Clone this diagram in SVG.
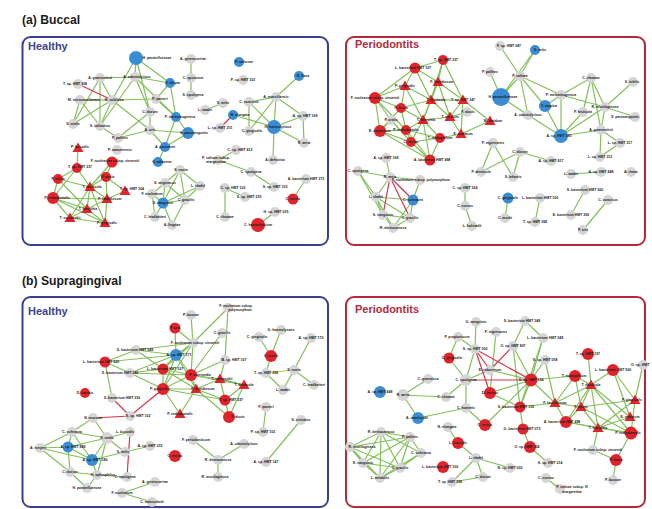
<svg xmlns="http://www.w3.org/2000/svg" xmlns:xlink="http://www.w3.org/1999/xlink" width="652" height="509" viewBox="0 0 652 509">
<defs>
<style>
.e path{fill:none;stroke:#82c05a;stroke-width:1.2}
.e path.x{stroke:#d2374d}
.g{fill:#d5d5d5}
.r{fill:#e1242c}
.b{fill:#3a8dd3}
.box{fill:#fff;stroke-width:2}
.hb{stroke:#3c3f8e}
.pb{stroke:#b5283c}
text{font-family:'Liberation Sans',Arial,sans-serif;font-weight:bold;font-size:3.5px;fill:#1b1b1b;text-anchor:middle}
text.h{font-size:11px;fill:#3c4391;text-anchor:start}
text.p{font-size:11px;fill:#b32a3e;text-anchor:start}
text.ti{font-size:12.2px;fill:#1a1a1a;text-anchor:start}
</style>
<path id="tri" d="M0,-5.5L5.5,4L-5.5,4Z" fill="#e1242c"/>
</defs>
<rect width="652" height="509" fill="#fff"/>
<text class="ti" x="22" y="24">(a) Buccal</text>
<text class="ti" x="22" y="285">(b) Supragingival</text>
<rect class="box hb" x="22.5" y="37" width="305.5" height="208" rx="8"/>
<rect class="box pb" x="346" y="37" width="299" height="208" rx="8"/>
<rect class="box hb" x="22.5" y="297" width="305.5" height="210" rx="8"/>
<rect class="box pb" x="346" y="297" width="299" height="210" rx="8"/>
<text class="h" x="28" y="50">Healthy</text>
<text class="p" x="355" y="48" textLength="64" lengthAdjust="spacingAndGlyphs">Periodontits</text>
<text class="h" x="28" y="315">Healthy</text>
<text class="p" x="355" y="313" textLength="64" lengthAdjust="spacingAndGlyphs">Periodontits</text>

<g id="tl-edges" class="e">
<path d="M136 58L135 77"/><path d="M136 58L112 100"/><path d="M136 58L150 112"/><path d="M136 58L170 83"/>
<path d="M100 78L135 77"/><path d="M100 78L73 124"/><path d="M100 78L100 126"/><path d="M100 78L112 100"/>
<path d="M80 100L112 100"/><path d="M80 100L100 126"/><path d="M80 100L73 124"/>
<path d="M112 100L73 124"/><path d="M112 100L100 126"/><path d="M112 100L156 99"/><path d="M112 100L150 130"/>
<path d="M135 77L170 83"/><path d="M135 77L176 117"/><path d="M135 77L150 112"/><path d="M135 77L100 126"/>
<path d="M170 83L156 99"/><path d="M170 83L176 117"/><path d="M156 99L176 117"/>
<path d="M150 112L150 130"/><path d="M150 112L118 138"/><path d="M176 117L188 133"/><path d="M176 117L165 147"/>
<path d="M150 130L188 133"/><path d="M150 130L165 147"/><path d="M150 130L118 138"/><path d="M188 133L165 147"/>
<path d="M165 147L158 162"/><path d="M100 126L118 138"/><path d="M191 59L191 95"/>
<path d="M78 148L77 168"/><path d="M77 168L58 179"/><path d="M77 168L90 187"/><path d="M77 168L53 198"/>
<path d="M58 179L90 187"/><path d="M58 179L53 198"/><path d="M58 179L87 209"/><path d="M90 187L106 177"/>
<path d="M90 187L107 199"/><path d="M90 187L87 209"/><path d="M90 187L70 218"/><path d="M90 187L105 223"/>
<path d="M53 198L87 209"/><path d="M53 198L70 218"/><path d="M107 199L105 223"/><path d="M107 199L87 209"/>
<path d="M87 209L70 218"/><path d="M70 218L105 223"/><path d="M106 177L112 162"/><path d="M112 162L90 187"/>
<path d="M106 177L107 199"/><path d="M53 198L107 199"/><path d="M107 199L125 191"/><path d="M87 209L105 223"/>
<path d="M106 177L125 191"/><path d="M53 198L105 223"/>
<path d="M180 170L165 183"/><path d="M180 170L163 203"/><path d="M180 170L185 200"/><path d="M180 170L200 186"/>
<path d="M165 183L163 203"/><path d="M165 183L185 200"/><path d="M200 186L163 203"/><path d="M163 203L185 200"/>
<path d="M163 203L155 217"/><path d="M163 203L172 225"/><path d="M152 194L163 203"/><path d="M185 200L172 225"/>
<path d="M165 183L152 194"/><path d="M152 194L155 217"/><path d="M200 186L185 200"/>
<path d="M225 188L225 217"/><path d="M225 188L245 197"/>
<path d="M299 76L276 97"/><path d="M276 97L249 102"/><path d="M276 97L274 127"/><path d="M276 97L249 131"/>
<path d="M276 97L303 116"/><path d="M249 102L274 127"/><path d="M233 115L274 127"/><path d="M274 127L303 116"/>
<path d="M274 127L304 143"/><path d="M274 127L273 160"/><path d="M303 116L304 143"/><path d="M249 131L249 102"/>
<path d="M223 103L205 110"/><path d="M236 150L218 160"/><path d="M218 160L251 172"/><path d="M251 172L274 187"/>
<path d="M306 179L293 199"/><path d="M275 212L258 225"/>
<path class="x" d="M78 84L112 100"/><path class="x" d="M233 115L220 128"/>
</g>

<g id="tr-edges" class="e">
<path d="M443 60L415 68"/><path d="M443 60L438 82"/><path d="M443 60L431 100"/><path d="M415 68L438 82"/>
<path d="M415 68L405 86"/><path d="M415 68L431 100"/><path d="M375 98L405 86"/><path d="M375 98L401 108"/>
<path d="M375 98L380 131"/><path d="M375 98L391 120"/><path d="M405 86L431 100"/><path d="M405 86L423 120"/>
<path d="M405 86L401 108"/><path d="M438 82L431 100"/><path d="M438 82L423 120"/><path d="M438 82L463 100"/>
<path d="M431 100L401 108"/><path d="M431 100L423 120"/><path d="M431 100L463 100"/><path d="M431 100L450 117"/>
<path d="M401 108L380 131"/><path d="M401 108L406 130"/><path d="M401 108L423 120"/><path d="M391 120L380 131"/>
<path d="M391 120L411 142"/><path d="M423 120L406 130"/><path d="M423 120L440 138"/><path d="M423 120L411 142"/>
<path d="M423 120L430 160"/><path d="M380 131L406 130"/><path d="M380 131L411 142"/><path d="M406 130L411 142"/>
<path d="M406 130L440 138"/><path d="M440 138L411 142"/><path d="M440 138L430 160"/><path d="M411 142L430 160"/>
<path d="M440 138L461 134"/><path d="M463 100L450 117"/><path d="M463 100L490 121"/><path d="M450 117L461 134"/>
<path d="M463 100L461 134"/><path d="M490 121L461 134"/><path d="M467 112L450 117"/><path d="M423 120L450 117"/>
<path d="M438 82L450 117"/><path d="M406 130L430 160"/><path d="M375 98L406 130"/><path d="M443 60L463 100"/>
<path d="M380 131L430 160"/><path d="M375 98L415 68"/>
<path d="M386 158L390 177"/><path d="M358 171L390 177"/><path d="M358 171L376 197"/><path d="M358 171L383 215"/>
<path d="M390 177L420 180"/><path d="M390 177L376 197"/><path d="M376 197L413 200"/><path d="M376 197L383 215"/>
<path d="M376 197L393 228"/><path d="M413 200L410 218"/><path d="M383 215L393 228"/><path d="M410 218L393 228"/>
<path d="M383 215L410 218"/><path d="M420 180L413 200"/><path d="M376 197L410 218"/><path d="M413 200L393 228"/>
<path class="x" d="M390 177L383 215"/><path class="x" d="M390 177L413 200"/><path class="x" d="M390 177L410 218"/>
<path d="M500 46L520 76"/><path d="M535 50L520 76"/><path d="M520 76L501 97"/><path d="M520 76L528 115"/>
<path d="M501 97L528 115"/><path d="M520 76L545 106"/><path d="M490 72L501 97"/><path d="M535 50L501 97"/>
<path d="M545 106L561 95"/><path d="M520 76L561 95"/><path d="M561 95L591 78"/><path d="M561 95L605 107"/>
<path d="M561 95L561 136"/><path d="M591 78L583 112"/><path d="M591 78L601 130"/><path d="M591 78L605 107"/>
<path d="M633 82L605 107"/><path d="M605 107L635 117"/><path d="M605 107L561 136"/><path d="M561 136L601 130"/>
<path d="M605 107L601 130"/><path d="M601 130L600 157"/><path d="M601 130L620 143"/><path d="M620 143L600 157"/>
<path d="M561 136L545 106"/><path d="M561 136L528 115"/><path d="M583 112L561 136"/>
<path d="M571 174L601 172"/><path d="M585 190L571 215"/><path d="M608 200L583 230"/>
<path d="M493 143L481 172"/><path d="M493 143L513 177"/><path d="M520 152L481 172"/><path d="M520 152L513 177"/>
<path d="M520 152L551 161"/><path d="M465 188L465 206"/><path d="M465 206L472 226"/><path d="M508 198L505 218"/>
<path d="M540 198L535 222"/>
</g>

<g id="bl-edges" class="e">
<path d="M105 362L136 350"/><path d="M105 362L130 373"/><path d="M105 362L112 398"/><path d="M105 362L176 355"/>
<path d="M136 350L176 355"/><path d="M136 350L163 369"/><path d="M136 350L193 343"/><path d="M130 373L163 369"/>
<path d="M130 373L176 355"/><path d="M130 373L163 389"/><path d="M130 373L191 375"/>
<path d="M93 418L72 432"/><path d="M93 418L107 438"/><path d="M72 432L107 438"/><path d="M72 432L40 448"/>
<path d="M72 432L68 447"/><path d="M72 432L92 460"/><path d="M40 448L68 447"/><path d="M40 448L92 460"/>
<path d="M40 448L70 472"/><path d="M68 447L107 438"/><path d="M68 447L92 460"/><path d="M68 447L70 472"/>
<path d="M92 460L107 438"/><path d="M92 460L97 475"/><path d="M70 472L97 475"/><path d="M97 475L87 488"/>
<path d="M107 438L130 432"/><path d="M107 438L125 452"/><path d="M92 460L125 452"/><path d="M97 475L127 477"/>
<path d="M107 438L97 475"/><path d="M70 472L87 488"/><path d="M150 446L125 452"/>
<path d="M191 315L193 343"/><path d="M175 328L193 343"/><path d="M175 328L176 355"/><path d="M228 308L193 343"/>
<path d="M228 308L225 360"/><path d="M193 343L176 355"/><path d="M193 343L163 369"/><path d="M193 343L191 375"/>
<path d="M193 343L163 389"/><path d="M222 333L191 375"/><path d="M176 355L163 369"/><path d="M176 355L191 375"/>
<path d="M176 355L163 389"/><path d="M176 355L196 389"/><path d="M163 369L191 375"/><path d="M163 369L163 389"/>
<path d="M163 369L196 389"/><path d="M191 375L220 379"/><path d="M191 375L196 389"/><path d="M191 375L163 389"/>
<path d="M220 379L196 389"/><path d="M220 379L225 400"/><path d="M220 379L225 360"/><path d="M163 389L196 389"/>
<path d="M163 389L180 414"/><path d="M196 389L225 400"/><path d="M196 389L229 417"/><path d="M225 400L229 417"/>
<path d="M163 389L225 400"/><path d="M244 385L225 400"/><path d="M244 385L220 379" style="stroke:#3f8f2f"/><path d="M244 385L229 417"/>
<path d="M191 375L244 385"/><path d="M180 414L196 389"/><path d="M225 360L191 375"/>
<path d="M193 440L218 460"/><path d="M218 460L218 477"/><path d="M155 482L122 493"/><path d="M122 493L152 502"/>
<path d="M244 444L218 460"/>
<path d="M281 330L271 356"/><path d="M259 337L271 356"/><path d="M271 356L266 373"/><path d="M266 373L294 370" style="stroke:#b9c24a"/>
<path d="M294 370L314 385"/><path d="M294 370L311 338"/><path d="M294 370L283 390"/><path d="M266 373L283 390"/>
<path d="M266 407L263 432"/><path d="M301 420L266 462"/>
<path class="x" d="M112 398L130 416"/><path class="x" d="M93 418L130 416"/><path class="x" d="M163 389L130 416"/><path class="x" d="M130 432L127 477"/>
</g>

<g id="br-edges" class="e">
<path d="M476 322L475 349"/><path d="M525 321L513 346"/><path d="M525 321L543 338"/><path d="M458 337L449 358"/>
<path d="M458 337L475 349"/><path d="M496 332L490 393"/><path d="M513 346L531 380"/><path d="M513 346L520 407"/>
<path d="M475 349L466 380"/><path d="M543 338L531 380"/><path d="M543 338L520 407"/><path d="M545 360L531 380"/>
<path d="M545 360L555 403"/><path d="M490 370L466 380"/><path d="M490 370L531 380"/><path d="M466 380L446 397"/>
<path d="M466 380L466 408"/><path d="M466 380L449 358"/><path d="M466 408L485 425"/><path d="M490 393L520 407"/>
<path d="M490 393L531 380"/><path d="M520 407L531 380"/><path d="M520 407L523 429"/><path d="M531 380L485 425"/>
<path d="M531 380L575 376"/><path d="M531 380L555 403"/><path d="M520 407L555 403"/><path d="M523 429L530 447"/>
<path d="M458 443L476 458"/><path d="M476 458L483 477"/><path d="M476 458L510 468"/><path d="M476 458L452 482"/>
<path d="M483 477L452 482"/><path d="M458 443L448 427"/><path d="M530 447L548 463"/><path d="M546 478L560 489"/>
<path d="M588 354L591 385"/><path d="M613 370L591 385"/><path d="M575 376L591 385"/><path d="M591 385L581 407"/>
<path d="M591 385L566 422"/><path d="M591 385L598 428"/><path d="M591 385L631 433"/><path d="M591 385L555 403"/>
<path d="M613 370L635 400"/><path d="M643 365L635 400"/><path d="M581 407L635 400"/><path d="M555 403L581 407"/>
<path d="M581 407L598 428"/><path d="M581 407L631 433"/><path d="M635 400L598 428"/><path d="M630 417L598 428"/>
<path d="M598 428L631 433"/><path d="M566 422L598 428"/><path d="M566 422L581 407"/><path d="M631 433L616 460"/>
<path d="M593 450L616 460"/><path d="M616 460L613 480"/><path d="M635 400L631 433"/><path d="M575 376L555 403"/>
<path d="M575 376L581 407"/><path d="M555 403L566 422"/><path d="M613 370L630 417"/><path d="M591 385L630 417"/>
<path d="M598 428L593 450"/><path d="M566 422L631 433"/>
<path d="M428 379L403 395"/><path d="M403 395L446 397"/><path d="M403 395L418 418"/><path d="M418 418L466 408"/>
<path d="M381 432L410 437"/><path d="M381 432L350 447"/><path d="M381 432L421 453"/><path d="M381 432L363 463"/>
<path d="M381 432L400 468"/><path d="M381 432L380 478"/><path d="M410 437L350 447"/><path d="M410 437L421 453"/>
<path d="M410 437L363 463"/><path d="M410 437L400 468"/><path d="M350 447L363 463"/><path d="M350 447L400 468"/>
<path d="M350 447L380 478"/><path d="M421 453L400 468"/><path d="M421 453L380 478"/><path d="M363 463L400 468"/>
<path d="M363 463L380 478"/><path d="M400 468L380 478"/><path d="M410 437L380 478"/>
<path class="x" d="M475 349L490 393"/><path class="x" d="M475 349L490 370"/><path class="x" d="M513 346L490 370"/>
<path class="x" d="M466 380L531 380"/><path class="x" d="M475 349L531 380"/>
</g>

<g id="tl-nodes">
<g id="a1"><circle class="b" cx="136" cy="58" r="7"/><text x="157" y="59.2">H. parainfluenzae</text></g>
<g id="a2"><circle class="g" cx="191" cy="59" r="5"/><text x="193" y="60.2">A. gerencseriae</text></g>
<g id="a3"><circle class="g" cx="191" cy="78" r="5"/><text x="193" y="79.2">C. sputorum</text></g>
<g id="a4"><circle class="g" cx="191" cy="95" r="5"/><text x="193" y="96.2">S. sputigena</text></g>
<g id="a5"><circle class="g" cx="78" cy="84" r="5"/><text x="75" y="85.2">T. sp. HMT 308</text></g>
<g id="a6"><circle class="g" cx="100" cy="78" r="5"/><text x="100" y="79.2">A. graevenitzii</text></g>
<g id="a7"><circle class="g" cx="135" cy="77" r="5"/><text x="137" y="78.2">A. odontolyticus</text></g>
<g id="a8"><circle class="b" cx="170" cy="83" r="5"/><text x="173" y="84.2">V. dispar</text></g>
<g id="a9"><circle class="g" cx="112" cy="100" r="5"/><text x="114" y="101.2">N. subflava</text></g>
<g id="a10"><circle class="g" cx="80" cy="100" r="5"/><text x="84" y="101.2">M. micronuciformis</text></g>
<g id="a11"><circle class="g" cx="156" cy="99" r="5"/><text x="160" y="100.2">P. pasteri</text></g>
<g id="a12"><circle class="g" cx="150" cy="112" r="5"/><text x="150" y="113.2">C. durum</text></g>
<g id="a13"><circle class="b" cx="176" cy="117" r="5"/><text x="180" y="118.2">P. melaninogenica</text></g>
<g id="a14"><circle class="g" cx="150" cy="130" r="5"/><text x="150" y="131.2">A. oris</text></g>
<g id="a15"><circle class="b" cx="188" cy="133" r="6"/><text x="194" y="134.2">S. parasanguinis</text></g>
<g id="a16"><circle class="b" cx="165" cy="147" r="5"/><text x="165" y="148.2">A. parvulum</text></g>
<g id="a17"><circle class="b" cx="158" cy="162" r="5"/><text x="162" y="163.2">G. adiacens</text></g>
<g id="a18"><circle class="g" cx="73" cy="124" r="5"/><text x="73" y="125.2">S. oralis</text></g>
<g id="a19"><circle class="g" cx="100" cy="126" r="5"/><text x="100" y="127.2">S. salivarius</text></g>
<g id="a20"><circle class="g" cx="118" cy="138" r="5"/><text x="120" y="139.2">P. pallens</text></g>
<g id="a21"><use href="#tri" x="78" y="148"/><text x="80" y="148.2">P. buccalis</text></g>
<g id="a22"><circle class="g" cx="117" cy="150" r="5"/><text x="120" y="151.2">P. nanceiensis</text></g>
<g id="a23"><circle class="r" cx="112" cy="162" r="5.5"/><text x="115" y="162.2">F. nucleatum subsp. vincentii</text></g>
<g id="a24"><circle class="r" cx="77" cy="168" r="5"/><text x="80" y="168.2">T. sp. HMT 237</text></g>
<g id="a25"><circle class="r" cx="58" cy="179" r="5"/><text x="58" y="180.2">P. micra</text></g>
<g id="a26"><circle class="r" cx="106" cy="177" r="5"/><text x="108" y="178.2">F. alocis</text></g>
<g id="a27"><use href="#tri" x="90" y="187"/><text x="92" y="188.2">T. denticola</text></g>
<g id="a28"><circle class="r" cx="53" cy="198" r="6"/><text x="57" y="199.2">P. endodontalis</text></g>
<g id="a29"><use href="#tri" x="107" y="199"/><text x="110" y="200.2">F. fastidiosum</text></g>
<g id="a30"><use href="#tri" x="87" y="209"/><text x="88" y="210.2">T. forsythia</text></g>
<g id="a31"><use href="#tri" x="70" y="218"/><text x="70" y="219.2">T. socranskii</text></g>
<g id="a32"><use href="#tri" x="105" y="223"/><text x="107" y="224.2">P. gingivalis</text></g>
<g id="a33"><use href="#tri" x="125" y="191"/><text x="132" y="190.2">T. sp. HMT 204</text></g>
<g id="a34"><circle class="g" cx="180" cy="170" r="5"/><text x="181" y="171.2">S. noxia</text></g>
<g id="a35"><circle class="g" cx="165" cy="183" r="5"/><text x="165" y="184.2">S. anginosus</text></g>
<g id="a36"><circle class="g" cx="200" cy="186" r="5"/><text x="198" y="187.2">L. shahii</text></g>
<g id="a37"><circle class="g" cx="225" cy="188" r="5"/><text x="233" y="189.2">C. sp. HMT 102</text></g>
<g id="a38"><circle class="b" cx="163" cy="203" r="5.5"/><text x="163" y="204.2">S. sanguinis</text></g>
<g id="a39"><circle class="g" cx="152" cy="194" r="5"/><text x="152" y="195.2">F. nucleatum</text></g>
<g id="a40"><circle class="g" cx="185" cy="200" r="5"/><text x="186" y="201.2">C. gracilis</text></g>
<g id="a41"><circle class="g" cx="155" cy="217" r="5"/><text x="155" y="218.2">C. leadbetteri</text></g>
<g id="a42"><circle class="g" cx="172" cy="225" r="5"/><text x="172" y="226.2">A. lingnae</text></g>
<g id="a43"><circle class="b" cx="239" cy="62" r="5"/><text x="244" y="63.2">P. oulorum</text></g>
<g id="a44"><circle class="g" cx="243" cy="80" r="5"/><text x="243" y="81.2">P. sp. HMT 102</text></g>
<g id="a45"><circle class="b" cx="299" cy="76" r="5"/><text x="303" y="77.2">N. flava</text></g>
<g id="a46"><circle class="g" cx="276" cy="97" r="5"/><text x="276" y="98.2">A. massiliensis</text></g>
<g id="a47"><circle class="g" cx="249" cy="102" r="5"/><text x="249" y="103.2">C. concisus</text></g>
<g id="a48"><circle class="g" cx="223" cy="103" r="5"/><text x="223" y="104.2">S. mitis</text></g>
<g id="a49"><circle class="g" cx="205" cy="110" r="5"/><text x="205" y="111.2">L. wadei</text></g>
<g id="a50"><circle class="b" cx="233" cy="115" r="5"/><text x="240" y="116.2">N. elongata</text></g>
<g id="a51"><circle class="g" cx="220" cy="128" r="5"/><text x="220" y="129.2">L. sp. HMT 215</text></g>
<g id="a52"><circle class="g" cx="249" cy="131" r="5"/><text x="252" y="132.2">C. gingivalis</text></g>
<g id="a53"><circle class="b" cx="274" cy="127" r="7"/><text x="278" y="128.2">H. haemolyticus</text></g>
<g id="a54"><circle class="g" cx="303" cy="116" r="5"/><text x="305" y="117.2">A. sp. HMT 169</text></g>
<g id="a55"><circle class="g" cx="304" cy="143" r="5"/><text x="304" y="144.2">R. aeria</text></g>
<g id="a56"><circle class="g" cx="273" cy="160" r="5"/><text x="275" y="161.2">A. defectiva</text></g>
<g id="a57"><circle class="g" cx="236" cy="150" r="5"/><text x="240" y="151.2">C. sp. HMT 412</text></g>
<g id="a58"><circle class="g" cx="218" cy="160" r="5"/><text x="216" y="159">P. salivae subsp.</text><text x="216" y="163.2">margaretiae</text></g>
<g id="a59"><circle class="g" cx="251" cy="172" r="5"/><text x="251" y="173.2">C. sputigena</text></g>
<g id="a60"><circle class="g" cx="274" cy="187" r="5"/><text x="275" y="188.2">S. sp. HMT 333</text></g>
<g id="a61"><circle class="g" cx="306" cy="179" r="5"/><text x="306" y="180.2">A. bacterium HMT 273</text></g>
<g id="a62"><circle class="r" cx="293" cy="199" r="5.5"/><text x="293" y="200.2">C. rectus</text></g>
<g id="a63"><circle class="g" cx="245" cy="197" r="5"/><text x="249" y="198.2">S. sp. HMT 235</text></g>
<g id="a64"><circle class="g" cx="275" cy="212" r="5"/><text x="276" y="213.2">H. sp. HMT 035</text></g>
<g id="a65"><circle class="r" cx="258" cy="225" r="7"/><text x="258" y="226.2">C. haemolyticum</text></g>
<g id="a66"><circle class="g" cx="225" cy="217" r="5"/><text x="225" y="218.2">C. showae</text></g>
</g>

<g id="tr-nodes">
<g id="b1"><circle class="r" cx="443" cy="60" r="5"/><text x="446" y="61.2">T. sp. HMT 237</text></g>
<g id="b2"><circle class="r" cx="415" cy="68" r="5.5"/><text x="413" y="69.2">L. bacterium HMT 107</text></g>
<g id="b3"><use href="#tri" x="438" y="82"/><text x="442" y="83.2">F. fastidiosum</text></g>
<g id="b4"><use href="#tri" x="405" y="86"/><text x="405" y="87.2">P. gingivalis</text></g>
<g id="b5"><circle class="r" cx="375" cy="98" r="6"/><text x="375" y="99.2">F. nucleatum subsp. vincentii</text></g>
<g id="b6"><use href="#tri" x="431" y="100"/><text x="436" y="101.2">T. denticola</text></g>
<g id="b7"><circle class="r" cx="401" cy="108" r="5"/><text x="401" y="109.2">P. micra</text></g>
<g id="b8"><circle class="g" cx="391" cy="120" r="5"/><text x="391" y="121.2">P. oralis</text></g>
<g id="b9"><use href="#tri" x="423" y="120"/><text x="426" y="121.2">T. forsythia</text></g>
<g id="b10"><circle class="r" cx="380" cy="131" r="6"/><text x="380" y="132.2">E. saphenum</text></g>
<g id="b11"><circle class="r" cx="406" cy="130" r="5"/><text x="406" y="131.2">P. endodontalis</text></g>
<g id="b12"><circle class="r" cx="440" cy="138" r="5"/><text x="440" y="139.2">T. maltophilum</text></g>
<g id="b13"><circle class="r" cx="411" cy="142" r="5"/><text x="411" y="143.2">C. rectus</text></g>
<g id="b14"><circle class="r" cx="430" cy="160" r="5.5"/><text x="432" y="161.2">A. bacterium HMT 498</text></g>
<g id="b16"><use href="#tri" x="463" y="100"/><text x="463" y="101.2">T. sp. HMT 347</text></g>
<g id="b17"><circle class="g" cx="467" cy="112" r="5"/><text x="468" y="113.2">F. alocis</text></g>
<g id="b18"><use href="#tri" x="450" y="117"/><text x="450" y="118.2">T. medium</text></g>
<g id="b19"><use href="#tri" x="490" y="121"/><text x="493" y="122.2">M. timidum</text></g>
<g id="b20"><use href="#tri" x="461" y="134"/><text x="463" y="135.2">E. nodatum</text></g>
<g id="b21"><circle class="g" cx="386" cy="158" r="5"/><text x="386" y="159.2">A. sp. HMT 169</text></g>
<g id="b22"><circle class="g" cx="358" cy="171" r="5"/><text x="358" y="172.2">C. sputigena</text></g>
<g id="b23"><circle class="g" cx="390" cy="177" r="5"/><text x="390" y="178.2">R. aeria</text></g>
<g id="b24"><circle class="g" cx="420" cy="180" r="5"/><text x="421" y="181.2">F. nucleatum subsp. polymorphum</text></g>
<g id="b25"><circle class="b" cx="413" cy="200" r="5.5"/><text x="413" y="201.2">C. ochracea</text></g>
<g id="b26"><circle class="g" cx="376" cy="197" r="5"/><text x="376" y="198.2">L. shahii</text></g>
<g id="b27"><circle class="g" cx="383" cy="215" r="5"/><text x="383" y="216.2">S. sanguinis</text></g>
<g id="b28"><circle class="g" cx="410" cy="218" r="5"/><text x="410" y="219.2">C. gracilis</text></g>
<g id="b29"><circle class="g" cx="393" cy="228" r="5"/><text x="393" y="229.2">R. dentocariosa</text></g>
<g id="b30"><circle class="g" cx="500" cy="46" r="5"/><text x="509" y="47.2">F. sp. HMT 087</text></g>
<g id="b31"><circle class="b" cx="535" cy="50" r="5"/><text x="540" y="51.2">S. mitis</text></g>
<g id="b32"><circle class="g" cx="490" cy="72" r="5"/><text x="490" y="73.2">P. pallens</text></g>
<g id="b33"><circle class="g" cx="520" cy="76" r="5"/><text x="520" y="77.2">P. salivae</text></g>
<g id="b34"><circle class="b" cx="501" cy="97" r="9"/><text x="503" y="98.2">H. parainfluenzae</text></g>
<g id="b35"><circle class="g" cx="528" cy="115" r="5"/><text x="528" y="116.2">A. odontolyticus</text></g>
<g id="b36"><circle class="b" cx="545" cy="106" r="6"/><text x="549" y="107.2">V. atypica</text></g>
<g id="b37"><circle class="g" cx="493" cy="143" r="5"/><text x="493" y="144.2">P. nigrescens</text></g>
<g id="b38"><circle class="g" cx="520" cy="152" r="5"/><text x="520" y="153.2">C. durum</text></g>
<g id="b39"><circle class="g" cx="551" cy="161" r="5"/><text x="551" y="162.2">A. sp. HMT 417</text></g>
<g id="b40"><circle class="g" cx="481" cy="172" r="5"/><text x="481" y="173.2">P. denticola</text></g>
<g id="b41"><circle class="g" cx="513" cy="177" r="5"/><text x="513" y="178.2">S. infantis</text></g>
<g id="b42"><circle class="g" cx="465" cy="188" r="5"/><text x="465" y="189.2">C. sp. HMT 324</text></g>
<g id="b43"><circle class="g" cx="465" cy="206" r="5"/><text x="465" y="207.2">C. curvus</text></g>
<g id="b44"><circle class="g" cx="472" cy="226" r="5"/><text x="472" y="227.2">L. hofstadii</text></g>
<g id="b45"><circle class="b" cx="508" cy="198" r="5.5"/><text x="508" y="199.2">C. gingivalis</text></g>
<g id="b46"><circle class="g" cx="540" cy="198" r="5"/><text x="540" y="199.2">L. bacterium HMT 100</text></g>
<g id="b47"><circle class="g" cx="505" cy="218" r="5"/><text x="505" y="219.2">C. morbi</text></g>
<g id="b48"><circle class="g" cx="535" cy="222" r="5"/><text x="535" y="223.2">T. sp. HMT 268</text></g>
<g id="b49"><circle class="g" cx="591" cy="78" r="5"/><text x="591" y="79.2">C. showae</text></g>
<g id="b50"><circle class="g" cx="633" cy="82" r="5"/><text x="632" y="83.2">S. infelix</text></g>
<g id="b51"><circle class="g" cx="561" cy="95" r="5"/><text x="561" y="96.2">P. melaninogenica</text></g>
<g id="b52"><circle class="g" cx="605" cy="107" r="5"/><text x="605" y="108.2">R. mucilaginosa</text></g>
<g id="b53"><circle class="g" cx="583" cy="112" r="5"/><text x="583" y="113.2">P. histicola</text></g>
<g id="b54"><circle class="g" cx="635" cy="117" r="5"/><text x="625" y="118.2">S. parasanguinis</text></g>
<g id="b55"><circle class="b" cx="561" cy="136" r="7"/><text x="559" y="137.2">A. sp. HMT 180</text></g>
<g id="b56"><circle class="g" cx="601" cy="130" r="5"/><text x="601" y="131.2">A. graevenitzii</text></g>
<g id="b57"><circle class="g" cx="620" cy="143" r="5"/><text x="620" y="144.2">L. sp. HMT 217</text></g>
<g id="b58"><circle class="g" cx="600" cy="157" r="5"/><text x="600" y="158.2">L. sp. HMT 212</text></g>
<g id="b59"><circle class="g" cx="571" cy="174" r="5"/><text x="571" y="175.2">L. wadei</text></g>
<g id="b60"><circle class="g" cx="601" cy="172" r="5"/><text x="601" y="173.2">A. sp. HMT 448</text></g>
<g id="b61"><circle class="g" cx="631" cy="172" r="5"/><text x="631" y="173.2">A. rimae</text></g>
<g id="b62"><circle class="g" cx="585" cy="190" r="5"/><text x="585" y="191.2">S. bacterium HMT 360</text></g>
<g id="b63"><circle class="g" cx="608" cy="200" r="5"/><text x="608" y="201.2">C. concisus</text></g>
<g id="b64"><circle class="g" cx="571" cy="215" r="5"/><text x="571" y="216.2">E. bacterium HMT 392</text></g>
<g id="b65"><circle class="g" cx="583" cy="230" r="5"/><text x="583" y="231.2">P. oris</text></g>
</g>

<g id="bl-nodes">
<g id="c1"><circle class="r" cx="105" cy="362" r="5.5"/><text x="101" y="363.2">L. bacterium HMT 500</text></g>
<g id="c2"><circle class="g" cx="136" cy="350" r="5"/><text x="135" y="351.2">S. bacterium HMT 348</text></g>
<g id="c3"><circle class="g" cx="130" cy="373" r="5"/><text x="120" y="374.2">S. bacterium HMT 246</text></g>
<g id="c4"><circle class="r" cx="85" cy="393" r="5"/><text x="85" y="394.2">D. invisus</text></g>
<g id="c5"><circle class="g" cx="112" cy="398" r="5"/><text x="122" y="399.2">S. bacterium HMT 336</text></g>
<g id="c6"><circle class="g" cx="93" cy="418" r="5"/><text x="93" y="419.2">N. mucosa</text></g>
<g id="c7"><circle class="g" cx="72" cy="432" r="5"/><text x="72" y="433.2">C. ochracea</text></g>
<g id="c8"><circle class="g" cx="107" cy="438" r="6"/><text x="107" y="439.2">S. oralis</text></g>
<g id="c9"><circle class="g" cx="40" cy="448" r="5"/><text x="38" y="449.2">A. meyeri</text></g>
<g id="c10"><circle class="b" cx="68" cy="447" r="5.5"/><text x="73" y="448.2">A. sp. HMT 849</text></g>
<g id="c11"><circle class="b" cx="92" cy="460" r="6"/><text x="95" y="461.2">A. sp. HMT 180</text></g>
<g id="c12"><circle class="g" cx="70" cy="472" r="5"/><text x="70" y="473.2">C. durum</text></g>
<g id="c13"><circle class="g" cx="97" cy="475" r="5"/><text x="103" y="476.2">H. aphrophilus</text></g>
<g id="c14"><circle class="g" cx="87" cy="488" r="5"/><text x="87" y="489.2">H. parainfluenzae</text></g>
<g id="c15"><circle class="g" cx="130" cy="432" r="5"/><text x="125" y="433.2">L. buccalis</text></g>
<g id="c16"><circle class="g" cx="125" cy="452" r="5"/><text x="123" y="453.2">S. mitis</text></g>
<g id="c17"><circle class="g" cx="122" cy="493" r="5"/><text x="122" y="494.2">F. nucleatum</text></g>
<g id="c55"><circle class="g" cx="150" cy="446" r="5"/><text x="150" y="447.2">A. sp. HMT 332</text></g>
<g id="c37"><circle class="g" cx="127" cy="477" r="5"/><text x="125" y="478.2">C. sputigena</text></g>
<g id="c18"><circle class="g" cx="191" cy="315" r="5"/><text x="191" y="316.2">P. buccae</text></g>
<g id="c19"><circle class="g" cx="228" cy="308" r="5"/><text x="236" y="306.5">F. nucleatum subsp.</text><text x="240" y="311">polymorphum</text></g>
<g id="c20"><circle class="r" cx="175" cy="328" r="5.5"/><text x="175" y="329.2">P. oris</text></g>
<g id="c21"><circle class="g" cx="193" cy="343" r="5"/><text x="195" y="344.2">F. nucleatum subsp. vincentii</text></g>
<g id="c22"><circle class="g" cx="222" cy="333" r="5"/><text x="222" y="334.2">C. gracilis</text></g>
<g id="c23"><circle class="b" cx="176" cy="355" r="6"/><text x="179" y="356.2">A. sp. HMT 171</text></g>
<g id="c24"><circle class="r" cx="163" cy="369" r="5.5"/><text x="165" y="370.2">L. bacterium HMT 107</text></g>
<g id="c25"><circle class="g" cx="225" cy="360" r="5"/><text x="234" y="361.2">B. sp. HMT 107</text></g>
<g id="c26"><circle class="r" cx="191" cy="375" r="6"/><text x="200" y="376.2">P. intermedia</text></g>
<g id="c27"><use href="#tri" x="220" y="379"/><text x="222" y="380.2">T. socranskii</text></g>
<g id="c28"><circle class="r" cx="163" cy="389" r="6"/><text x="160" y="390.2">P. gingivalis</text></g>
<g id="c29"><use href="#tri" x="196" y="389"/><text x="203" y="390.2">F. fastidiosum</text></g>
<g id="c30"><circle class="r" cx="225" cy="400" r="5.5"/><text x="231" y="401.2">T. sp. HMT 237</text></g>
<g id="c31"><circle class="r" cx="229" cy="417" r="6"/><text x="238" y="418.2">F. alocis</text></g>
<g id="c32"><use href="#tri" x="244" y="385"/><text x="244" y="386.2">T. denticola</text></g>
<g id="c33"><use href="#tri" x="180" y="414"/><text x="180" y="415.2">P. endodontalis</text></g>
<g id="c34"><circle class="g" cx="130" cy="416" r="5"/><text x="138" y="417.2">S. sp. HMT 102</text></g>
<g id="c35"><circle class="g" cx="193" cy="440" r="5"/><text x="196" y="441.2">F. periodonticum</text></g>
<g id="c36"><circle class="r" cx="175" cy="456" r="6"/><text x="175" y="457.2">C. rectus</text></g>
<g id="c38"><circle class="g" cx="218" cy="460" r="5"/><text x="218" y="461.2">R. dentocariosa</text></g>
<g id="c39"><circle class="g" cx="155" cy="482" r="5"/><text x="155" y="483.2">A. gerencseriae</text></g>
<g id="c40"><circle class="g" cx="218" cy="477" r="5"/><text x="215" y="478.2">R. mucilaginosa</text></g>
<g id="c41"><circle class="g" cx="152" cy="502" r="5"/><text x="152" y="503.2">C. matruchotii</text></g>
<g id="c42"><circle class="g" cx="281" cy="330" r="5"/><text x="281" y="331.2">G. haemolysans</text></g>
<g id="c43"><circle class="g" cx="259" cy="337" r="5"/><text x="257" y="338.2">C. gingivalis</text></g>
<g id="c44"><circle class="g" cx="311" cy="338" r="5"/><text x="311" y="339.2">A. sp. HMT 170</text></g>
<g id="c45"><circle class="r" cx="271" cy="356" r="6"/><text x="271" y="357.2">C. morbi</text></g>
<g id="c46"><circle class="g" cx="266" cy="373" r="5"/><text x="266" y="374.2">T. sp. HMT 258</text></g>
<g id="c47"><circle class="g" cx="294" cy="370" r="5"/><text x="294" y="371.2">S. noxia</text></g>
<g id="c48"><circle class="g" cx="314" cy="385" r="5"/><text x="314" y="386.2">C. leadbetteri</text></g>
<g id="c49"><circle class="g" cx="283" cy="390" r="5"/><text x="283" y="391.2">L. wadei</text></g>
<g id="c50"><circle class="g" cx="266" cy="407" r="5"/><text x="266" y="408.2">P. pasteri</text></g>
<g id="c51"><circle class="g" cx="301" cy="420" r="5"/><text x="301" y="421.2">S. cristatus</text></g>
<g id="c52"><circle class="g" cx="263" cy="432" r="5"/><text x="263" y="433.2">P. sp. HMT 102</text></g>
<g id="c53"><circle class="g" cx="244" cy="444" r="5"/><text x="244" y="445.2">A. odontolyticus</text></g>
<g id="c54"><circle class="g" cx="266" cy="462" r="5"/><text x="266" y="463.2">A. sp. HMT 147</text></g>
</g>

<g id="br-nodes">
<g id="d1"><circle class="g" cx="476" cy="322" r="5"/><text x="476" y="323.2">G. sanguinis</text></g>
<g id="d2"><circle class="g" cx="525" cy="321" r="5"/><text x="522" y="322.2">S. bacterium HMT 348</text></g>
<g id="d3"><circle class="g" cx="458" cy="337" r="5"/><text x="457" y="338.2">P. propionicum</text></g>
<g id="d4"><circle class="g" cx="496" cy="332" r="5"/><text x="496" y="333.2">P. nigrescens</text></g>
<g id="d5"><circle class="g" cx="513" cy="346" r="5"/><text x="513" y="347.2">O. sp. HMT 807</text></g>
<g id="d6"><circle class="g" cx="475" cy="349" r="5"/><text x="475" y="350.2">S. sp. HMT 200</text></g>
<g id="d7"><circle class="g" cx="543" cy="338" r="5"/><text x="545" y="339.2">L. bacterium HMT 349</text></g>
<g id="d8"><circle class="r" cx="449" cy="358" r="5.5"/><text x="452" y="359.2">C. gingivalis</text></g>
<g id="d9"><circle class="g" cx="545" cy="360" r="5"/><text x="545" y="361.2">S. sp. HMT 058</text></g>
<g id="d10"><circle class="g" cx="490" cy="370" r="5"/><text x="490" y="371.2">E. saburreum</text></g>
<g id="d11"><circle class="g" cx="466" cy="380" r="6"/><text x="466" y="381.2">C. sputigena</text></g>
<g id="d12"><circle class="r" cx="531" cy="380" r="6.5"/><text x="531" y="381.2">S. sp. HMT 134</text></g>
<g id="d13"><circle class="r" cx="490" cy="393" r="6"/><text x="490" y="394.2">D. invisus</text></g>
<g id="d14"><circle class="g" cx="446" cy="397" r="5"/><text x="446" y="398.2">C. showae</text></g>
<g id="d15"><circle class="g" cx="466" cy="408" r="5"/><text x="466" y="409.2">C. hominis</text></g>
<g id="d16"><circle class="r" cx="520" cy="407" r="5.5"/><text x="516" y="408.2">S. bacterium HMT 130</text></g>
<g id="d17"><circle class="r" cx="485" cy="425" r="6"/><text x="485" y="426.2">C. rectus</text></g>
<g id="d18"><circle class="r" cx="523" cy="429" r="5.5"/><text x="522" y="430.2">G. bacterium HMT 072</text></g>
<g id="d19"><circle class="r" cx="458" cy="443" r="6"/><text x="458" y="444.2">L. buccalis</text></g>
<g id="d20"><circle class="r" cx="530" cy="447" r="6"/><text x="527" y="448.2">O. sp. HMT 324</text></g>
<g id="d21"><circle class="g" cx="476" cy="458" r="5"/><text x="476" y="459.2">L. shahii</text></g>
<g id="d22"><circle class="g" cx="483" cy="477" r="5"/><text x="483" y="478.2">C. durum</text></g>
<g id="d23"><circle class="g" cx="510" cy="468" r="5"/><text x="510" y="469.2">N. sp. HMT 020</text></g>
<g id="d24"><circle class="r" cx="443" cy="467" r="6"/><text x="440" y="468.2">L. bacterium HMT 100</text></g>
<g id="d25"><circle class="g" cx="452" cy="482" r="5"/><text x="450" y="483.2">T. sp. HMT 258</text></g>
<g id="d26"><circle class="g" cx="548" cy="463" r="5"/><text x="550" y="464.2">S. sp. HMT 214</text></g>
<g id="d27"><circle class="g" cx="546" cy="478" r="5"/><text x="546" y="479.2">C. curvus</text></g>
<g id="d28"><circle class="g" cx="560" cy="489" r="5"/><text x="572" y="488">P. salivae subsp. III</text><text x="572" y="492.5">margaretiae</text></g>
<g id="d29"><circle class="r" cx="588" cy="354" r="6"/><text x="588" y="355.2">T. sp. HMT 237</text></g>
<g id="d30"><circle class="g" cx="643" cy="365" r="5"/><text x="631" y="366.2" style="text-anchor:start">O. sp. HMT</text></g>
<g id="d31"><circle class="r" cx="613" cy="370" r="6"/><text x="613" y="371.2">L. bacterium HMT 500</text></g>
<g id="d32"><circle class="r" cx="575" cy="376" r="6"/><text x="574" y="377.2">T. maltophilum</text></g>
<g id="d33"><use href="#tri" x="591" y="385"/><text x="591" y="386.2">T. denticola</text></g>
<g id="d34"><use href="#tri" x="555" y="403"/><text x="555" y="404.2">F. fastidiosum</text></g>
<g id="d35"><use href="#tri" x="581" y="407"/><text x="581" y="408.2">F. alocis</text></g>
<g id="d36"><use href="#tri" x="635" y="400"/><text x="632" y="401.2">P. gingivalis</text></g>
<g id="d37"><circle class="r" cx="566" cy="422" r="6"/><text x="562" y="423.2">A. bacterium HMT 498</text></g>
<g id="d38"><use href="#tri" x="630" y="417"/><text x="630" y="418.2">E. nodatum</text></g>
<g id="d39"><use href="#tri" x="598" y="428"/><text x="598" y="429.2">T. forsythia</text></g>
<g id="d40"><circle class="r" cx="631" cy="433" r="6.5"/><text x="628" y="434.2">P. endodontalis</text></g>
<g id="d41"><circle class="g" cx="593" cy="450" r="5"/><text x="598" y="451.2">F. nucleatum subsp. vincentii</text></g>
<g id="d42"><circle class="r" cx="616" cy="460" r="6"/><text x="616" y="461.2">P. micra</text></g>
<g id="d43"><circle class="g" cx="613" cy="480" r="5"/><text x="613" y="481.2">P. buccae</text></g>
<g id="d44"><circle class="g" cx="428" cy="379" r="5"/><text x="428" y="380.2">C. granulosa</text></g>
<g id="d45"><circle class="b" cx="380" cy="392" r="6"/><text x="380" y="393.2">A. sp. HMT 448</text></g>
<g id="d46"><circle class="g" cx="403" cy="395" r="6"/><text x="403" y="396.2">R. aeria</text></g>
<g id="d47"><circle class="b" cx="418" cy="418" r="6"/><text x="417" y="419.2">A. naeslundii</text></g>
<g id="d48"><circle class="g" cx="448" cy="427" r="5"/><text x="447" y="428.2">N. elongata</text></g>
<g id="d49"><circle class="g" cx="381" cy="432" r="5"/><text x="381" y="433.2">R. dentocariosa</text></g>
<g id="d50"><circle class="g" cx="410" cy="437" r="5"/><text x="410" y="438.2">P. pallens</text></g>
<g id="d51"><circle class="g" cx="350" cy="447" r="5"/><text x="362" y="448.2">R. mucilaginosa</text></g>
<g id="d52"><circle class="g" cx="421" cy="453" r="5"/><text x="421" y="454.2">C. ochracea</text></g>
<g id="d53"><circle class="g" cx="363" cy="463" r="5"/><text x="363" y="464.2">S. sanguinis</text></g>
<g id="d54"><circle class="g" cx="400" cy="468" r="5"/><text x="400" y="469.2">C. gracilis</text></g>
<g id="d55"><circle class="g" cx="380" cy="478" r="5"/><text x="380" y="479.2">L. mirabilis</text></g>
</g>
</svg>
